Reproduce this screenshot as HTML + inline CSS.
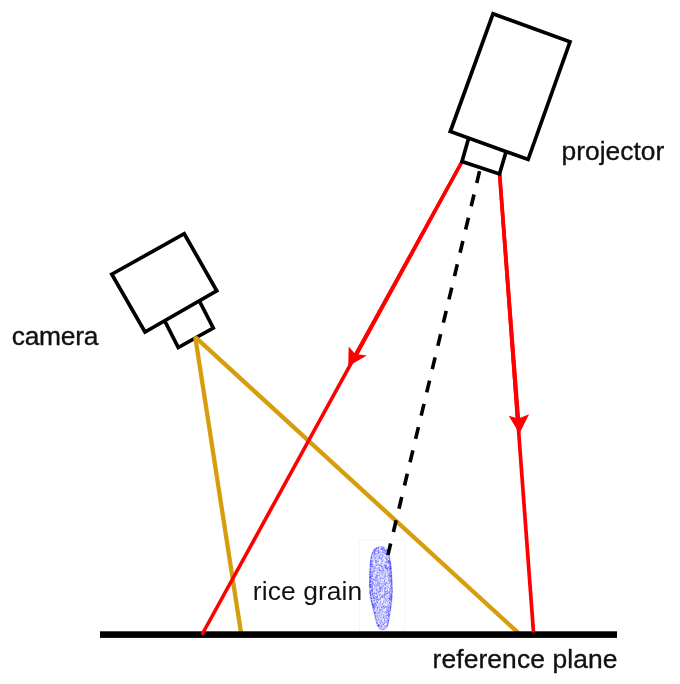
<!DOCTYPE html>
<html>
<head>
<meta charset="utf-8">
<title>Structured light setup</title>
<style>
html,body{margin:0;padding:0;background:#fff;}
body{width:680px;height:684px;overflow:hidden;}
svg{display:block;filter:blur(0.6px);}
text{font-family:"Liberation Sans",Arial,sans-serif;font-size:26.4px;fill:#111;}
.b{stroke:#111;stroke-width:0.35px;}
</style>
</head>
<body>
<svg width="680" height="684" viewBox="0 0 680 684">
  <defs>
    <filter id="blur" x="-20%" y="-20%" width="140%" height="140%"><feGaussianBlur stdDeviation="0.6"/></filter>
  </defs>
  <rect width="680" height="684" fill="#fff"/>

  <!-- rice grain image box -->
  <rect x="359.3" y="539.8" width="45.2" height="92" fill="#fff" stroke="#f5f5f5" stroke-width="1"/>
  <g id="grain">
    <path d="M379.6,546.6 L376.6,547.6 L375.2,548.6 L374.1,549.6 L373.4,550.6 L372.7,551.6 L372.3,552.6 L371.9,553.6 L371.5,554.6 L371.2,555.6 L371.1,556.6 L370.9,557.6 L370.7,558.6 L370.6,559.6 L370.4,560.6 L370.3,561.6 L370.2,562.6 L370.1,563.6 L370.0,564.6 L370.0,565.6 L369.9,566.6 L369.9,567.6 L369.8,568.6 L369.8,569.6 L369.7,570.6 L369.7,571.6 L369.7,572.6 L369.6,573.6 L369.6,574.6 L369.6,575.6 L369.6,576.6 L369.5,577.6 L369.5,578.6 L369.5,579.6 L369.5,580.6 L369.4,581.6 L369.4,582.6 L369.4,583.6 L369.4,584.6 L369.4,585.6 L369.5,586.6 L369.5,587.6 L369.5,588.6 L369.5,589.6 L369.6,590.6 L369.6,591.6 L369.7,592.6 L369.9,593.6 L370.0,594.6 L370.2,595.6 L370.3,596.6 L370.5,597.6 L370.7,598.6 L370.8,599.6 L371.0,600.6 L371.3,601.6 L371.5,602.6 L371.7,603.6 L372.0,604.6 L372.2,605.6 L372.4,606.6 L372.7,607.6 L372.9,608.6 L373.1,609.6 L373.4,610.6 L373.6,611.6 L373.9,612.6 L374.1,613.6 L374.4,614.6 L374.6,615.6 L374.9,616.6 L375.1,617.6 L375.4,618.6 L375.6,619.6 L375.9,620.6 L376.2,621.6 L376.4,622.6 L376.7,623.6 L377.0,624.6 L377.3,625.6 L378.0,626.6 L378.7,627.6 L379.4,628.6 L380.9,629.6 L385.1,629.6 L386.3,628.6 L386.8,627.6 L387.3,626.6 L387.8,625.6 L388.1,624.6 L388.3,623.6 L388.5,622.6 L388.7,621.6 L388.9,620.6 L389.1,619.6 L389.3,618.6 L389.5,617.6 L389.6,616.6 L389.8,615.6 L389.9,614.6 L390.1,613.6 L390.2,612.6 L390.4,611.6 L390.6,610.6 L390.7,609.6 L390.9,608.6 L391.0,607.6 L391.1,606.6 L391.3,605.6 L391.4,604.6 L391.5,603.6 L391.7,602.6 L391.8,601.6 L391.9,600.6 L392.0,599.6 L392.1,598.6 L392.1,597.6 L392.2,596.6 L392.3,595.6 L392.3,594.6 L392.4,593.6 L392.5,592.6 L392.5,591.6 L392.5,590.6 L392.4,589.6 L392.4,588.6 L392.4,587.6 L392.4,586.6 L392.3,585.6 L392.3,584.6 L392.3,583.6 L392.2,582.6 L392.2,581.6 L392.1,580.6 L392.1,579.6 L392.0,578.6 L392.0,577.6 L391.9,576.6 L391.8,575.6 L391.8,574.6 L391.7,573.6 L391.7,572.6 L391.6,571.6 L391.5,570.6 L391.4,569.6 L391.3,568.6 L391.2,567.6 L391.2,566.6 L391.1,565.6 L390.9,564.6 L390.8,563.6 L390.6,562.6 L390.5,561.6 L390.3,560.6 L390.1,559.6 L389.9,558.6 L389.6,557.6 L389.4,556.6 L389.2,555.6 L388.9,554.6 L388.6,553.6 L388.3,552.6 L388.0,551.6 L387.6,550.6 L387.1,549.6 L386.3,548.6 L385.2,547.6 L382.4,546.6Z" fill="#ebebfe" stroke="#bdbdfa" stroke-width="0.8" filter="url(#blur)"/>
    <path d="M370.0 584.3h.01M377.9 585.4h.01M376.5 562.1h.01M386.6 612.6h.01M372.2 604.4h.01M391.8 597.9h.01M390.2 590.7h.01M381.7 566.9h.01M380.2 583.4h.01M376.4 599.9h.01M369.7 584.8h.01M388.7 605.5h.01M372.8 570.8h.01M384.6 580.0h.01M376.7 622.4h.01M376.4 579.8h.01M389.8 611.4h.01M388.0 609.7h.01M373.3 555.2h.01M382.0 561.5h.01M389.5 562.6h.01M384.0 600.2h.01M370.4 564.5h.01M374.9 613.5h.01M371.4 564.3h.01M371.2 600.1h.01M372.8 564.5h.01M391.2 574.1h.01M386.2 554.3h.01M382.8 596.7h.01M390.3 594.5h.01M388.3 614.7h.01M391.8 581.8h.01M380.1 626.7h.01M377.5 568.1h.01M373.9 571.2h.01M378.9 552.5h.01M386.7 617.5h.01M388.1 622.9h.01M390.9 569.1h.01M378.2 561.4h.01M371.7 557.7h.01M390.2 604.2h.01M374.6 549.7h.01M386.9 586.8h.01M382.8 629.7h.01M374.9 608.0h.01M379.3 622.7h.01M370.8 581.4h.01M385.1 594.3h.01M391.7 595.2h.01M378.0 579.0h.01M391.6 583.4h.01M379.2 609.1h.01M374.4 586.7h.01M370.2 588.1h.01M386.7 568.0h.01M389.9 603.1h.01M386.6 583.5h.01M383.7 602.1h.01M380.7 619.9h.01M380.8 573.1h.01M382.2 569.8h.01M383.4 569.6h.01M387.1 598.7h.01M392.0 584.4h.01M378.4 619.2h.01M372.5 594.2h.01M381.5 548.4h.01M390.7 566.5h.01M377.3 599.0h.01M371.6 601.2h.01M382.4 603.6h.01M381.3 561.6h.01M387.7 606.1h.01M380.0 575.5h.01M384.8 597.8h.01M383.1 606.8h.01M385.3 598.7h.01M372.4 594.0h.01M380.2 625.2h.01M372.0 563.8h.01M389.5 600.1h.01M374.5 612.4h.01M388.9 617.8h.01M372.5 583.4h.01M371.7 587.3h.01M372.8 561.2h.01M379.8 558.5h.01M391.7 587.7h.01M386.8 565.2h.01M381.2 607.3h.01M386.2 616.8h.01M370.4 578.4h.01M370.4 564.1h.01M390.0 590.3h.01M377.4 591.3h.01M372.0 589.6h.01M374.9 593.5h.01M382.4 552.3h.01M390.3 569.1h.01M370.3 582.8h.01M390.1 586.4h.01M391.0 598.1h.01M388.7 611.5h.01M385.9 565.7h.01M391.0 576.3h.01M381.5 607.5h.01M379.6 567.6h.01M383.8 583.1h.01M390.0 590.7h.01M380.4 599.2h.01M376.1 617.5h.01M372.0 566.1h.01M385.7 621.7h.01M376.9 623.4h.01M386.9 620.5h.01M390.3 607.1h.01M376.5 615.9h.01M375.3 557.3h.01M378.2 548.3h.01M373.8 556.4h.01M390.2 588.5h.01M388.0 552.7h.01M378.7 592.6h.01M387.8 559.0h.01M387.9 623.7h.01M382.8 610.3h.01M377.5 589.6h.01M383.3 616.9h.01M389.0 608.2h.01M390.0 560.5h.01M378.2 599.0h.01M371.9 588.7h.01M373.3 568.2h.01M370.6 580.5h.01M374.7 604.5h.01M391.6 580.5h.01M391.5 575.2h.01M376.6 576.3h.01M376.8 602.1h.01M384.9 594.1h.01M372.4 605.0h.01M384.5 608.1h.01M383.1 551.0h.01M372.1 555.0h.01M370.0 592.5h.01M391.4 599.8h.01M391.8 596.4h.01M383.0 624.0h.01M377.1 560.8h.01M377.5 581.7h.01M375.6 577.1h.01M374.2 593.3h.01M388.3 571.4h.01M375.7 550.4h.01M373.1 579.2h.01M377.6 625.2h.01M369.8 582.4h.01M370.4 567.0h.01M372.8 606.8h.01M389.1 614.6h.01M389.7 598.6h.01M387.0 551.1h.01M382.4 583.6h.01M383.2 568.6h.01M373.9 611.4h.01M370.8 566.6h.01M385.5 611.9h.01M378.5 569.3h.01M373.6 595.9h.01M370.6 562.6h.01M384.8 550.1h.01M391.3 582.1h.01M391.8 591.8h.01M377.7 602.9h.01M389.4 577.8h.01M371.3 575.3h.01M373.9 553.0h.01M389.5 598.6h.01M371.7 582.0h.01M369.9 577.4h.01M373.2 573.8h.01M384.7 623.2h.01M378.7 553.3h.01M387.5 587.0h.01M388.4 611.2h.01M387.3 601.8h.01M387.5 607.0h.01M374.3 558.7h.01M374.1 577.2h.01M370.4 594.0h.01M377.8 622.6h.01M384.0 572.1h.01M384.8 567.4h.01M384.5 577.0h.01M372.5 563.0h.01M378.9 591.7h.01M371.3 561.5h.01M380.1 570.2h.01M370.0 592.0h.01M391.4 600.8h.01M391.8 592.2h.01M380.0 621.4h.01M376.1 558.7h.01M372.9 567.2h.01M384.6 590.1h.01M380.4 602.6h.01M373.1 606.6h.01M375.3 580.9h.01M371.9 590.3h.01M390.8 581.8h.01M389.5 578.0h.01M369.8 582.1h.01M387.3 551.7h.01M390.1 600.6h.01M378.4 552.0h.01M387.9 622.3h.01M387.7 562.1h.01M388.7 606.3h.01M388.8 562.2h.01M380.7 609.7h.01M387.3 614.6h.01M370.0 575.2h.01M391.9 586.9h.01M380.2 578.8h.01M391.5 601.4h.01M372.0 586.0h.01M389.8 606.0h.01M386.9 559.8h.01M379.6 618.9h.01M372.7 591.2h.01M375.2 553.6h.01M381.1 554.9h.01M376.9 618.0h.01M391.4 581.4h.01M381.2 615.4h.01M371.4 590.4h.01M391.1 572.6h.01M374.0 572.2h.01M391.0 576.7h.01M369.9 579.5h.01M378.2 547.8h.01M381.9 566.5h.01M379.3 613.2h.01M379.3 570.9h.01M384.2 571.6h.01M389.5 602.1h.01M373.1 607.5h.01M386.7 593.5h.01M388.8 615.4h.01M375.1 554.6h.01M371.9 561.7h.01M389.4 596.0h.01M383.1 559.8h.01M375.9 582.2h.01M383.8 578.8h.01M378.1 548.1h.01M391.5 601.6h.01M375.8 574.3h.01M380.0 555.6h.01M373.5 597.5h.01M390.5 576.1h.01M371.3 589.6h.01M391.4 598.9h.01M374.5 567.1h.01M385.2 574.1h.01M369.8 585.2h.01M378.9 591.9h.01M370.1 568.7h.01M389.1 614.7h.01M375.2 615.2h.01M371.6 566.8h.01M390.0 562.2h.01M374.6 549.5h.01M373.4 572.3h.01M371.8 578.5h.01M381.3 548.2h.01M378.3 558.7h.01M387.0 561.2h.01M376.4 593.9h.01M384.2 596.6h.01M373.8 598.6h.01M373.3 609.2h.01M378.5 580.7h.01M382.0 621.9h.01M386.8 582.7h.01M387.4 596.4h.01M391.1 596.1h.01M384.4 583.9h.01M387.4 590.5h.01M391.5 579.6h.01M384.0 602.1h.01M376.7 613.6h.01M391.6 593.8h.01M381.1 612.6h.01M386.1 625.7h.01M391.1 571.6h.01M377.9 579.8h.01M374.0 550.6h.01M370.2 572.4h.01M370.7 563.9h.01M377.1 621.2h.01M390.0 576.2h.01M388.7 563.6h.01M388.4 619.9h.01M373.3 607.0h.01M371.3 558.0h.01M389.4 583.7h.01M389.4 572.3h.01M375.6 561.8h.01M378.2 612.4h.01M370.5 565.8h.01M377.4 602.2h.01M379.8 583.3h.01M384.7 550.6h.01M390.6 567.6h.01M388.2 570.5h.01M389.4 570.0h.01M376.2 549.6h.01M380.8 578.7h.01M376.1 561.7h.01M372.3 576.6h.01M371.1 589.7h.01M372.1 603.6h.01M388.8 561.2h.01M383.3 597.3h.01M382.3 612.5h.01M380.5 565.2h.01M373.3 606.1h.01M390.2 561.7h.01M383.0 588.0h.01M390.8 568.6h.01M389.2 591.9h.01M389.6 558.9h.01M379.8 572.9h.01M390.7 568.8h.01M387.3 614.9h.01M372.1 560.1h.01M384.2 612.1h.01M369.9 577.0h.01M375.7 550.3h.01M383.3 628.7h.01M388.2 608.6h.01M384.4 620.7h.01M391.0 571.5h.01M388.2 610.2h.01M388.1 567.8h.01M385.5 585.1h.01M384.5 597.5h.01M386.3 600.7h.01M382.5 595.8h.01M384.8 579.4h.01M385.7 611.7h.01M389.0 562.0h.01M381.5 563.7h.01M370.0 572.4h.01M390.2 563.8h.01M387.8 604.2h.01M384.2 548.3h.01M373.9 579.4h.01M389.9 569.1h.01M378.6 624.5h.01M382.6 548.5h.01M380.0 573.8h.01M385.7 551.4h.01M378.6 550.2h.01M382.1 549.4h.01M374.3 592.0h.01M375.4 568.4h.01M386.3 559.0h.01M384.9 606.0h.01M386.4 618.7h.01M391.4 575.4h.01M370.2 593.8h.01M370.3 571.5h.01M375.4 564.7h.01M390.4 566.3h.01M391.7 582.3h.01M380.9 578.6h.01M383.8 570.0h.01M375.4 586.2h.01M385.5 566.7h.01M378.0 581.9h.01M376.2 605.0h.01M383.0 548.7h.01M387.7 552.0h.01M382.0 587.9h.01M391.4 573.8h.01M378.5 575.6h.01M389.3 568.5h.01M369.9 585.7h.01M370.0 576.9h.01M378.9 610.8h.01M387.9 580.9h.01M391.6 578.5h.01M385.5 558.1h.01M387.4 559.2h.01M391.3 603.3h.01M389.2 591.9h.01M379.3 587.8h.01M372.4 598.6h.01M384.6 627.2h.01M378.5 620.4h.01M372.3 604.5h.01M379.4 615.2h.01M385.4 587.5h.01M379.5 570.5h.01M385.9 566.5h.01M389.4 561.6h.01M387.5 552.0h.01M383.1 605.3h.01M389.2 610.9h.01M380.2 551.2h.01M377.2 612.9h.01M385.9 567.7h.01M371.2 574.5h.01M384.0 615.6h.01M373.8 605.5h.01M385.0 613.3h.01M389.8 602.4h.01M382.6 557.9h.01M371.3 599.2h.01M381.2 628.9h.01M385.8 556.6h.01M389.1 556.8h.01M385.4 591.8h.01M371.3 572.5h.01M376.8 570.3h.01M379.2 579.1h.01M388.7 613.2h.01M390.2 567.7h.01M378.5 573.7h.01M386.4 558.7h.01M384.7 565.7h.01M390.8 568.3h.01M388.3 620.9h.01M370.6 561.9h.01M381.0 563.6h.01M384.4 581.2h.01M376.9 551.6h.01M371.1 598.5h.01M373.6 583.6h.01M388.8 561.4h.01M384.1 556.7h.01M381.5 609.3h.01M376.8 547.7h.01M374.7 607.8h.01M379.8 628.6h.01M388.6 580.2h.01M381.1 622.3h.01M384.6 565.7h.01M385.6 601.3h.01M388.0 599.8h.01M388.1 621.9h.01M389.2 574.6h.01M377.2 608.5h.01M389.2 561.5h.01M391.6 575.9h.01M386.9 588.5h.01M390.0 591.4h.01M377.8 619.9h.01M389.4 582.5h.01M390.2 580.7h.01M370.2 569.5h.01M385.3 573.5h.01M381.8 628.9h.01M389.4 578.2h.01M371.9 598.0h.01M379.2 599.0h.01M376.9 604.1h.01M389.1 581.6h.01M380.8 596.7h.01M377.6 583.9h.01M383.0 624.1h.01M370.0 572.8h.01M390.9 580.2h.01M375.9 566.2h.01M374.3 613.0h.01M374.2 605.9h.01M370.7 584.5h.01M376.1 563.1h.01M374.2 552.9h.01M371.9 587.5h.01M372.2 592.4h.01M389.3 559.4h.01M374.8 549.9h.01M388.3 616.0h.01M376.8 579.1h.01M376.5 621.6h.01M371.2 564.0h.01M377.3 607.2h.01M386.2 582.6h.01M387.5 573.0h.01M390.2 596.9h.01M381.2 557.4h.01M371.4 557.5h.01M389.9 597.4h.01M386.8 607.9h.01M376.4 580.7h.01M384.0 582.1h.01M369.9 584.7h.01M388.7 575.5h.01M371.2 594.9h.01M375.0 570.6h.01M384.7 584.6h.01M383.3 608.5h.01M385.1 552.1h.01M387.6 583.4h.01M388.5 604.5h.01M370.4 581.0h.01M385.5 567.7h.01M391.4 595.8h.01M384.9 621.2h.01M375.2 577.9h.01M370.0 575.3h.01M382.1 585.7h.01M377.2 573.0h.01M377.9 615.6h.01M383.2 629.6h.01M389.3 580.1h.01M384.0 628.9h.01M373.9 558.7h.01M376.6 553.7h.01M388.7 598.5h.01M382.8 611.2h.01M380.1 548.8h.01M372.2 591.1h.01M390.5 571.8h.01M391.7 593.9h.01M372.5 589.3h.01M390.8 567.3h.01M378.6 564.9h.01M391.4 584.9h.01M375.4 617.4h.01M377.2 590.4h.01M390.6 581.1h.01M380.9 605.9h.01M384.1 549.2h.01M384.1 617.2h.01M387.7 553.3h.01M382.7 623.1h.01M371.6 601.1h.01M370.7 593.9h.01M373.3 579.5h.01M382.9 568.2h.01M383.3 586.4h.01M371.2 584.2h.01M379.3 551.9h.01M391.3 580.0h.01M381.3 577.7h.01M380.9 565.9h.01M381.5 627.0h.01M381.3 626.5h.01M377.1 577.4h.01M381.3 595.7h.01M392.0 589.6h.01M385.8 554.5h.01M375.0 612.8h.01M374.9 580.2h.01M386.1 615.8h.01M373.9 600.1h.01M376.4 592.6h.01M390.5 609.3h.01M377.1 608.0h.01M385.0 583.4h.01M391.3 584.0h.01M391.1 573.4h.01M390.8 602.1h.01M371.5 556.6h.01M389.8 593.3h.01M371.1 581.2h.01M383.3 586.0h.01M370.1 578.1h.01M384.8 587.8h.01M376.4 611.4h.01M388.1 560.6h.01M385.6 575.5h.01M384.9 595.9h.01M385.9 594.5h.01M370.4 595.3h.01M388.7 574.0h.01M378.1 568.5h.01M371.7 568.1h.01M383.1 578.1h.01M370.9 598.1h.01M382.7 622.3h.01M390.3 566.0h.01M391.3 572.2h.01M380.2 604.8h.01M370.1 574.4h.01M379.4 564.9h.01M373.5 597.4h.01M370.7 595.1h.01M372.2 604.0h.01M373.6 606.4h.01M388.1 607.1h.01M387.9 567.8h.01M386.2 557.7h.01M380.3 570.5h.01M376.5 619.3h.01M381.3 617.7h.01M377.6 607.7h.01M370.3 568.4h.01M388.8 576.9h.01M373.5 584.4h.01M389.3 593.8h.01M377.7 625.6h.01M372.0 601.3h.01M388.2 555.3h.01M379.1 619.2h.01M378.7 552.4h.01M380.1 590.1h.01M384.8 562.1h.01M374.3 588.2h.01M391.5 581.4h.01M369.8 587.2h.01M387.6 593.4h.01M370.1 574.7h.01M382.7 624.4h.01M377.5 595.8h.01M372.2 554.0h.01M375.1 549.4h.01M387.2 626.2h.01M372.9 589.9h.01M389.6 613.8h.01M385.8 616.0h.01M372.6 575.6h.01M379.7 568.6h.01M382.2 574.6h.01M389.3 566.3h.01M380.9 559.2h.01M387.9 611.8h.01M380.8 601.1h.01M389.3 568.0h.01M385.8 566.1h.01M374.7 607.1h.01M372.8 591.6h.01M383.3 567.1h.01M369.9 576.4h.01M372.1 578.9h.01M375.7 611.7h.01M377.6 578.3h.01M374.5 608.3h.01M370.2 578.4h.01M371.7 558.7h.01M390.5 575.2h.01M375.2 562.8h.01M384.5 625.6h.01M371.5 556.8h.01M383.9 552.7h.01M386.3 550.9h.01M379.1 557.0h.01M380.2 593.9h.01M386.4 625.4h.01M374.5 553.2h.01M378.3 560.1h.01M370.0 571.2h.01M371.0 585.0h.01M369.9 585.4h.01M380.2 628.0h.01M390.4 580.0h.01M388.0 561.2h.01M376.7 548.4h.01M382.2 588.2h.01M386.1 562.0h.01M378.1 550.2h.01M376.6 577.5h.01M370.7 573.1h.01M379.8 595.0h.01M370.1 585.0h.01M370.8 560.3h.01M373.8 570.8h.01M389.6 566.3h.01M387.4 625.4h.01M379.9 603.8h.01M380.5 588.1h.01M380.9 578.3h.01M376.4 569.1h.01M381.0 585.2h.01M369.8 586.8h.01M390.8 570.1h.01M375.4 613.2h.01M374.6 613.0h.01M379.0 588.6h.01M371.1 586.8h.01M390.1 588.6h.01M372.2 564.7h.01M375.7 603.7h.01M386.0 561.4h.01M377.0 575.3h.01M376.3 600.3h.01M387.8 619.1h.01M372.2 604.4h.01M374.6 598.5h.01M376.0 619.3h.01M385.1 599.8h.01M390.2 576.1h.01M378.4 612.8h.01M381.6 611.1h.01M389.6 573.0h.01M371.5 600.6h.01M370.3 574.2h.01M387.2 611.1h.01M392.1 590.2h.01M382.9 618.4h.01M388.9 608.6h.01M386.8 595.0h.01M383.7 552.6h.01M376.3 590.5h.01M389.0 581.2h.01M391.3 586.1h.01M372.7 582.7h.01M370.2 592.9h.01M381.7 621.7h.01M390.1 562.5h.01M386.5 559.3h.01M386.6 606.5h.01M377.0 610.5h.01M391.4 584.7h.01M370.4 586.2h.01M385.2 551.5h.01M390.4 604.4h.01M373.1 582.1h.01M374.9 580.3h.01M374.9 597.9h.01M381.0 557.5h.01M382.4 548.2h.01M369.9 585.7h.01M380.4 617.5h.01M387.1 556.8h.01M384.2 618.7h.01M388.4 579.9h.01M383.1 584.0h.01M376.6 584.4h.01M372.5 580.9h.01M370.5 584.6h.01M370.3 584.5h.01M373.2 580.1h.01M370.1 571.4h.01M383.5 601.2h.01M373.9 601.0h.01M386.4 591.5h.01M384.1 605.9h.01M379.1 610.4h.01M370.3 565.1h.01M374.1 551.8h.01M380.2 616.3h.01M375.3 605.9h.01M374.7 594.9h.01M370.1 593.4h.01M385.1 558.1h.01M379.7 569.6h.01M376.7 587.9h.01M383.3 570.8h.01M381.5 558.9h.01M386.0 594.1h.01M386.9 609.8h.01M373.5 604.2h.01M385.5 578.4h.01M385.3 591.4h.01M387.1 601.4h.01M390.2 567.5h.01M382.2 608.1h.01M373.7 604.5h.01M378.3 618.1h.01M373.0 604.8h.01M386.1 564.9h.01M378.4 583.5h.01M376.8 565.3h.01M383.0 575.1h.01M385.9 603.0h.01M373.1 605.4h.01M385.0 619.2h.01M390.7 565.8h.01M373.4 604.5h.01M391.7 591.9h.01M373.8 550.5h.01M391.7 596.6h.01M375.2 555.3h.01M375.5 561.4h.01M382.6 604.5h.01M385.3 570.8h.01M387.3 576.7h.01M386.4 568.5h.01M391.3 595.9h.01M382.0 617.0h.01M373.0 572.7h.01M375.5 598.5h.01M384.7 588.3h.01M380.0 588.6h.01M370.5 591.0h.01M386.5 565.4h.01M390.0 598.3h.01M375.0 603.5h.01M379.0 584.5h.01M372.5 553.0h.01M387.3 591.9h.01M375.6 618.3h.01M382.4 547.9h.01M379.4 599.9h.01M378.7 624.8h.01M390.4 595.9h.01M375.1 585.3h.01M379.1 564.8h.01M376.4 574.8h.01M378.5 548.3h.01M373.0 564.6h.01M376.5 593.2h.01M373.8 568.6h.01M390.3 609.7h.01M388.4 613.0h.01M381.2 549.3h.01M385.8 626.3h.01M379.2 615.5h.01M382.9 550.4h.01M377.6 615.2h.01M370.6 562.2h.01M370.6 566.7h.01M389.7 602.8h.01M371.4 566.5h.01M385.1 602.4h.01M390.7 606.3h.01M379.9 587.6h.01M373.5 550.8h.01M390.5 577.6h.01M390.3 596.0h.01M372.7 588.3h.01M390.2 593.7h.01M373.6 606.9h.01M381.2 549.6h.01M377.3 616.9h.01M390.2 610.0h.01M388.6 615.3h.01M374.7 549.9h.01M391.6 578.4h.01M375.5 617.0h.01M384.5 549.9h.01M388.4 562.7h.01M390.3 600.0h.01M391.0 591.2h.01M384.9 594.0h.01M377.0 586.2h.01M390.4 562.9h.01M370.0 579.4h.01M374.7 557.8h.01M370.3 577.7h.01M384.5 550.2h.01M371.6 562.2h.01M373.6 610.3h.01M370.0 576.9h.01M384.0 626.5h.01M372.7 593.6h.01M385.1 552.0h.01M389.5 573.6h.01M369.7 583.9h.01M374.6 568.6h.01M388.4 562.6h.01M392.1 593.0h.01M382.0 546.9h.01M375.0 599.7h.01M373.9 566.1h.01M384.3 581.7h.01M381.9 572.8h.01M374.2 603.7h.01M381.2 627.0h.01M382.9 560.3h.01M378.2 562.0h.01M387.7 551.6h.01M374.8 584.9h.01M385.4 592.3h.01M389.0 556.2h.01M389.5 565.8h.01M387.3 552.1h.01M386.3 596.9h.01M374.4 556.8h.01M380.8 620.2h.01M379.9 627.7h.01M391.7 599.3h.01M377.4 586.3h.01M391.9 589.1h.01M375.4 557.7h.01M380.4 570.9h.01M374.6 613.5h.01M381.6 587.0h.01M387.1 550.6h.01M390.2 603.1h.01M372.7 581.9h.01M385.4 583.7h.01M388.6 620.5h.01M388.1 620.3h.01M377.4 609.0h.01M377.2 564.5h.01M372.4 574.6h.01M376.2 555.9h.01M372.1 585.8h.01M377.3 563.9h.01M370.1 585.8h.01M390.3 564.1h.01M374.6 598.1h.01M386.5 550.2h.01M370.9 592.1h.01M386.2 567.5h.01M373.4 560.8h.01M374.5 574.7h.01M390.1 607.2h.01M373.0 554.7h.01M385.6 588.0h.01M369.9 577.4h.01M375.0 597.1h.01M373.3 596.4h.01M370.8 597.3h.01M385.0 580.6h.01M375.9 580.9h.01M371.1 576.1h.01M375.2 613.2h.01M388.5 578.8h.01M372.0 573.0h.01M384.6 623.3h.01M376.5 556.5h.01M386.7 620.8h.01M374.1 609.8h.01M389.5 576.1h.01M387.5 570.9h.01M378.1 607.3h.01M388.5 613.4h.01M373.2 556.8h.01M382.8 596.9h.01M391.9 596.5h.01M369.8 581.7h.01M370.8 576.7h.01M372.2 594.5h.01M388.1 554.3h.01M387.6 554.5h.01M382.6 609.7h.01M389.2 611.4h.01M380.5 590.8h.01M379.8 606.0h.01M388.5 554.5h.01M381.8 572.5h.01M372.7 593.6h.01M371.9 574.3h.01M374.6 552.6h.01M384.1 595.8h.01M382.3 590.0h.01M390.4 568.2h.01M379.3 558.2h.01M370.4 595.1h.01M388.5 616.1h.01M372.2 561.6h.01M387.4 624.6h.01M371.2 560.5h.01M387.8 622.3h.01M375.9 576.1h.01M383.6 606.6h.01M385.3 584.7h.01M374.0 584.6h.01M390.3 573.9h.01M383.4 550.6h.01M382.0 549.5h.01M383.1 549.3h.01M377.7 572.6h.01M388.3 616.4h.01M373.8 555.5h.01M372.4 566.0h.01M384.7 553.7h.01M386.8 610.6h.01M381.9 584.3h.01M375.6 612.7h.01M389.7 563.4h.01M371.3 571.9h.01M372.5 603.3h.01M388.9 618.6h.01M383.3 570.5h.01M387.5 614.8h.01M388.5 607.5h.01M382.4 552.0h.01M378.8 592.1h.01M375.1 570.9h.01M384.7 574.7h.01M386.9 569.2h.01M391.3 571.5h.01M370.6 586.7h.01M379.9 576.7h.01M376.4 548.8h.01M386.3 593.0h.01M375.1 609.2h.01M382.9 607.0h.01M380.1 591.1h.01M371.3 597.9h.01M383.1 550.9h.01M381.6 625.5h.01M380.6 558.8h.01M373.6 607.8h.01M378.7 547.4h.01M374.2 569.6h.01M373.1 607.5h.01M381.7 590.6h.01M370.6 574.9h.01M383.4 624.4h.01M390.5 569.5h.01M381.6 574.5h.01M369.9 582.9h.01M387.4 615.6h.01M377.2 585.0h.01M390.9 572.7h.01M371.6 564.2h.01M385.3 550.3h.01M370.2 568.7h.01M372.6 586.0h.01M380.1 589.1h.01M377.3 601.8h.01M370.4 564.3h.01M389.4 615.0h.01M389.2 616.3h.01M373.4 607.4h.01M376.0 602.9h.01M391.4 577.3h.01M388.3 613.4h.01M379.2 584.2h.01M383.0 555.8h.01M388.5 567.1h.01M370.2 581.3h.01M372.7 603.0h.01M377.6 597.3h.01M391.3 576.2h.01M376.2 601.9h.01M370.8 597.1h.01M377.0 584.9h.01M377.9 599.8h.01M371.4 577.0h.01M373.2 596.1h.01M388.4 621.3h.01M369.9 573.8h.01M374.6 579.6h.01M383.0 554.9h.01M382.4 557.1h.01M374.4 613.4h.01M388.0 563.0h.01M376.6 548.0h.01M379.8 571.0h.01M390.8 568.9h.01M371.7 575.8h.01M379.6 610.7h.01M375.3 551.4h.01M380.3 611.1h.01M390.9 598.6h.01M375.2 578.7h.01M386.6 568.4h.01M376.1 597.2h.01M390.6 567.8h.01M391.5 595.1h.01M379.4 625.5h.01M372.1 590.6h.01M383.4 614.7h.01M374.3 550.0h.01M375.4 603.1h.01M374.7 605.0h.01M380.3 594.8h.01M370.7 569.7h.01M385.1 575.8h.01M370.6 562.6h.01M390.6 595.7h.01M377.8 550.9h.01M386.1 626.1h.01M390.7 565.2h.01M385.4 587.8h.01M378.4 625.7h.01M392.1 591.0h.01M391.7 597.4h.01M376.5 605.1h.01M370.3 567.1h.01M385.5 591.7h.01M385.9 622.3h.01M385.5 576.2h.01M376.9 563.7h.01M380.4 601.4h.01M374.4 551.5h.01M388.1 568.6h.01M391.8 579.4h.01M374.2 592.8h.01M381.1 565.4h.01M390.8 570.2h.01M391.0 604.4h.01M370.9 560.9h.01M389.8 564.1h.01M391.2 597.1h.01M390.8 600.1h.01M372.6 596.1h.01M386.4 615.4h.01M389.6 558.7h.01M374.8 613.9h.01M385.7 613.7h.01M387.8 586.1h.01M369.8 582.6h.01M380.5 623.5h.01M389.5 558.9h.01M383.7 585.1h.01M383.5 617.6h.01M391.0 594.1h.01M391.2 584.9h.01M387.5 553.4h.01M375.5 615.5h.01M388.2 592.7h.01M379.1 616.5h.01M389.8 599.3h.01M369.9 582.6h.01M391.8 595.9h.01M370.4 593.2h.01M390.5 563.9h.01M388.9 619.1h.01M377.4 594.6h.01M387.1 570.0h.01M374.2 609.8h.01M378.0 575.5h.01M386.4 568.2h.01M377.2 556.2h.01M372.7 566.9h.01M386.4 558.6h.01M371.4 577.0h.01M377.3 596.9h.01M385.2 595.1h.01M376.4 594.1h.01M384.7 565.5h.01M379.2 582.8h.01M379.1 589.8h.01M380.0 603.1h.01M382.5 566.4h.01M380.0 571.1h.01M372.1 584.5h.01M385.5 553.9h.01M390.2 563.7h.01M376.2 590.3h.01M381.9 596.6h.01M382.5 597.6h.01M375.3 604.0h.01M373.5 598.0h.01M382.9 570.7h.01M389.2 607.8h.01M391.4 598.4h.01M374.7 606.4h.01M377.3 583.0h.01M376.3 599.4h.01M375.4 593.3h.01M372.5 605.2h.01M380.5 586.7h.01M370.5 576.5h.01M388.8 561.5h.01M380.0 622.2h.01M385.8 585.0h.01M391.3 583.4h.01M379.2 591.5h.01M386.2 612.6h.01M371.0 569.3h.01M390.7 587.3h.01M383.0 566.0h.01M377.4 596.7h.01M371.8 586.1h.01M388.8 592.2h.01M376.8 606.0h.01M387.6 568.0h.01M384.3 619.0h.01M379.6 594.7h.01M373.5 593.3h.01M376.9 548.1h.01M389.6 569.7h.01M392.1 587.9h.01M389.8 560.5h.01M370.0 573.0h.01M378.6 600.6h.01M381.2 566.7h.01M381.2 586.9h.01M380.0 613.6h.01M387.2 554.4h.01M389.4 588.8h.01M374.9 604.0h.01M391.7 589.1h.01M391.6 600.4h.01M386.9 553.8h.01M382.3 568.7h.01M371.0 559.0h.01M380.1 598.4h.01M375.9 612.0h.01M380.0 555.4h.01M386.6 562.1h.01M378.2 625.1h.01M378.7 625.2h.01M391.3 587.7h.01M380.9 603.9h.01M372.5 576.4h.01M373.6 589.3h.01M388.0 567.8h.01M375.5 596.4h.01M379.1 582.1h.01M386.3 555.5h.01M390.8 586.6h.01M389.3 599.1h.01M371.6 557.4h.01M386.9 626.9h.01M390.6 607.7h.01M388.1 610.4h.01M372.2 566.2h.01M390.2 596.9h.01M379.8 552.4h.01M376.8 596.3h.01M384.2 593.6h.01M375.7 616.7h.01M380.6 610.9h.01M375.5 567.4h.01M379.0 567.4h.01M389.0 597.2h.01M370.7 572.0h.01M382.4 573.3h.01M372.8 582.4h.01M375.8 584.0h.01M383.4 572.9h.01M385.7 593.0h.01M381.2 547.7h.01M377.9 625.8h.01M370.8 570.0h.01M372.8 552.5h.01M373.1 602.7h.01M389.7 561.6h.01M371.6 578.2h.01M390.2 570.8h.01M378.0 568.1h.01M383.9 595.5h.01M390.4 594.0h.01M377.4 571.1h.01M372.7 585.6h.01M379.7 598.9h.01M381.7 568.0h.01M390.4 576.0h.01M390.9 567.8h.01M384.4 590.4h.01M372.0 601.5h.01M388.5 575.7h.01M389.0 561.6h.01M386.2 578.8h.01M384.1 576.8h.01M383.2 576.2h.01M391.6 581.1h.01M376.7 577.0h.01M380.7 553.0h.01M388.6 616.7h.01M378.0 602.1h.01M382.6 581.1h.01M370.2 569.4h.01M379.5 575.7h.01M375.1 553.4h.01M375.1 587.9h.01M387.3 554.5h.01M387.3 572.0h.01M379.6 556.3h.01M390.0 609.7h.01M389.9 607.2h.01M372.2 587.5h.01M385.3 588.8h.01M391.1 579.1h.01M390.7 582.7h.01M377.6 592.0h.01M376.1 586.4h.01M391.9 583.6h.01M372.8 571.2h.01M372.3 586.6h.01M384.7 590.0h.01M383.1 547.0h.01M379.7 592.0h.01M383.5 603.4h.01M376.5 597.5h.01M389.3 575.3h.01M380.0 587.4h.01M375.8 551.4h.01M370.7 560.6h.01M373.4 597.4h.01M391.7 579.6h.01M378.9 585.7h.01M391.8 588.9h.01M381.0 597.9h.01M389.8 581.0h.01M389.9 612.8h.01M376.5 597.8h.01M381.6 561.9h.01M388.4 560.6h.01M376.1 560.7h.01M371.8 602.1h.01M370.0 581.9h.01M374.4 600.7h.01M390.4 608.2h.01M379.1 607.6h.01M387.8 556.5h.01M378.8 613.0h.01M375.1 553.0h.01M382.6 556.0h.01M371.6 565.9h.01M390.5 564.0h.01M370.8 561.1h.01M376.4 549.8h.01M390.1 610.1h.01M374.1 600.7h.01M382.3 588.5h.01M372.1 583.8h.01M388.3 595.6h.01M377.3 575.5h.01M373.1 593.1h.01M382.2 560.8h.01M384.7 564.7h.01M386.6 607.8h.01M387.1 612.1h.01M371.4 585.2h.01M382.0 563.8h.01M378.1 551.0h.01M391.6 597.0h.01M387.5 593.3h.01M381.0 565.3h.01M375.1 577.2h.01M387.9 569.7h.01M379.4 608.7h.01M369.9 590.9h.01M387.3 612.6h.01M390.2 598.8h.01M383.1 554.6h.01M387.0 590.9h.01M373.8 551.1h.01M370.0 571.5h.01M382.4 578.4h.01M383.1 627.2h.01M371.7 600.5h.01M391.2 574.9h.01M374.0 553.3h.01M372.5 590.8h.01M376.4 588.9h.01M391.0 593.8h.01M385.2 553.6h.01M379.1 626.0h.01M371.6 556.7h.01M377.8 565.0h.01M390.7 579.9h.01M378.7 604.5h.01M383.9 614.8h.01M376.7 576.1h.01M390.4 563.2h.01M391.1 589.5h.01M389.7 589.0h.01M374.8 595.2h.01M387.7 584.1h.01M371.4 598.9h.01M390.4 565.2h.01M390.2 584.7h.01M376.2 561.6h.01M377.3 558.7h.01M374.6 566.7h.01M386.1 617.8h.01M377.2 596.6h.01M389.2 592.7h.01M378.2 553.8h.01M378.2 626.4h.01M385.1 598.6h.01M391.4 576.8h.01M382.2 567.0h.01M370.1 586.8h.01M377.3 620.3h.01M372.4 576.1h.01M385.6 576.0h.01M389.5 561.2h.01M381.8 606.4h.01M374.8 613.9h.01M375.7 607.0h.01M379.6 596.1h.01M387.6 591.1h.01M385.9 562.6h.01M390.9 606.1h.01M383.7 564.1h.01M390.7 603.2h.01M377.3 554.4h.01M381.1 597.6h.01M375.3 582.9h.01M386.1 552.7h.01M370.9 565.6h.01M373.3 606.8h.01M377.0 623.5h.01M373.1 571.0h.01M370.5 571.2h.01M374.5 554.6h.01M389.7 570.1h.01M386.1 568.3h.01M375.2 559.1h.01M381.8 614.4h.01M392.1 591.2h.01M382.1 607.9h.01M387.6 624.9h.01M381.5 559.2h.01M378.2 612.3h.01M378.5 551.1h.01M390.4 606.9h.01M386.0 572.9h.01M376.1 560.9h.01M380.5 623.1h.01M377.4 577.1h.01M370.9 597.8h.01M389.2 558.2h.01M374.7 593.3h.01M370.5 576.3h.01M379.7 557.3h.01M378.4 606.3h.01M388.9 557.5h.01M379.2 570.2h.01M389.2 574.6h.01M388.8 608.0h.01M371.8 562.8h.01M381.8 583.2h.01M384.2 595.1h.01M383.1 606.9h.01M385.6 567.8h.01M390.3 563.2h.01M389.2 566.6h.01M387.6 620.5h.01M371.4 572.8h.01M383.2 548.2h.01M385.9 582.4h.01M389.1 564.3h.01M383.6 617.2h.01M370.3 565.1h.01M385.8 606.1h.01M391.6 599.6h.01M370.9 592.0h.01M389.7 597.6h.01M390.6 608.3h.01M378.5 624.6h.01M380.1 591.6h.01M390.1 579.5h.01M391.4 575.8h.01M369.8 580.1h.01M389.5 614.7h.01M386.9 568.6h.01M378.2 554.6h.01M378.7 557.3h.01M373.2 608.6h.01M390.7 568.0h.01M371.3 561.2h.01M379.1 626.4h.01M384.9 606.6h.01M372.4 572.8h.01M381.4 625.3h.01M391.0 605.4h.01M383.5 606.0h.01M377.3 614.2h.01M372.6 605.5h.01M389.9 599.2h.01M380.9 580.7h.01M384.4 608.0h.01M370.3 587.4h.01M391.3 577.7h.01M370.0 591.4h.01M390.5 599.4h.01M381.1 597.6h.01M391.7 580.9h.01M386.2 566.0h.01M387.1 574.3h.01M380.5 609.8h.01M375.7 606.1h.01M391.0 576.3h.01M377.0 573.2h.01M379.5 585.3h.01M387.6 618.6h.01M391.3 598.3h.01M373.0 553.0h.01M374.4 610.8h.01M384.8 617.2h.01M386.3 600.0h.01M386.5 554.3h.01M377.3 599.2h.01M387.1 622.4h.01M372.0 555.1h.01M390.3 585.6h.01M387.3 576.2h.01M377.6 607.4h.01M374.7 549.2h.01M369.8 578.0h.01M381.8 595.8h.01M388.1 598.5h.01M374.6 571.0h.01M380.1 554.1h.01M389.4 602.3h.01M380.3 589.2h.01M386.3 549.5h.01M389.1 575.5h.01M372.5 553.2h.01M371.8 558.1h.01M378.7 548.1h.01M377.5 616.9h.01M384.0 612.1h.01M378.7 594.4h.01M375.5 548.9h.01M372.7 605.6h.01M376.9 609.6h.01M375.9 619.0h.01M391.9 582.6h.01M389.0 573.4h.01M377.0 601.4h.01M386.0 622.3h.01M373.3 580.1h.01M371.6 590.8h.01M371.0 590.0h.01M389.4 615.8h.01M389.4 605.5h.01M375.8 560.4h.01M371.4 598.5h.01M370.5 564.7h.01M378.9 556.8h.01M384.0 622.8h.01M386.0 566.2h.01M377.0 622.4h.01M381.2 625.6h.01M371.1 581.1h.01M392.0 587.8h.01M372.3 560.3h.01M382.8 548.7h.01M370.9 578.9h.01M385.0 566.7h.01M390.1 610.4h.01M382.3 585.8h.01M384.4 592.9h.01M375.0 589.9h.01M387.0 562.8h.01M378.0 625.8h.01M380.7 577.4h.01M377.3 599.6h.01M382.6 561.6h.01M389.3 603.3h.01M369.9 577.5h.01M369.9 587.5h.01M385.3 588.6h.01M381.5 553.8h.01M379.8 586.6h.01M375.2 560.6h.01M381.2 589.6h.01M377.6 580.8h.01M385.4 550.8h.01M373.3 595.2h.01M391.2 598.1h.01M385.1 607.4h.01M371.4 595.3h.01M392.2 592.1h.01M378.3 585.3h.01M371.5 600.6h.01M373.0 583.4h.01M370.4 592.8h.01M379.3 565.5h.01M381.9 614.6h.01M382.5 570.9h.01M375.0 615.9h.01M379.9 613.2h.01M371.2 581.5h.01M374.9 603.0h.01M380.7 581.8h.01M384.5 620.7h.01M390.5 606.1h.01M376.0 589.1h.01M387.1 560.7h.01M371.0 570.1h.01M373.9 600.0h.01M375.8 579.2h.01M370.7 564.0h.01M376.2 619.9h.01M376.8 565.4h.01M377.1 575.6h.01M380.6 591.3h.01M374.7 598.0h.01M391.4 585.8h.01M376.0 553.6h.01M381.7 570.8h.01M385.5 627.4h.01M386.3 599.4h.01M388.9 583.5h.01M379.4 624.5h.01M384.3 552.3h.01M378.3 625.7h.01M374.7 549.2h.01M388.2 577.5h.01M384.7 576.9h.01M381.7 572.1h.01M378.1 562.0h.01M382.8 594.4h.01M382.5 556.6h.01M370.8 581.1h.01M377.1 571.9h.01M388.6 557.6h.01M371.0 591.8h.01M383.2 624.8h.01M371.8 602.1h.01M391.9 587.8h.01M371.2 579.1h.01M372.8 587.9h.01M380.2 581.1h.01M390.7 566.3h.01M380.8 588.3h.01M383.0 578.6h.01M387.4 609.8h.01M385.6 563.3h.01M372.6 582.1h.01M384.8 628.3h.01M376.4 589.8h.01M370.5 595.5h.01M390.8 572.7h.01M373.5 566.8h.01M390.2 576.2h.01M379.5 565.8h.01M374.5 612.4h.01M379.0 599.2h.01M370.5 564.4h.01M383.4 548.0h.01M375.9 568.0h.01M371.8 558.0h.01M378.0 552.2h.01M382.2 619.9h.01M370.2 580.6h.01M382.4 596.4h.01M387.5 589.0h.01M382.1 552.7h.01M371.1 596.5h.01M388.6 586.9h.01M381.5 620.5h.01M378.7 582.9h.01M382.5 591.2h.01M387.7 569.2h.01M388.2 553.2h.01M372.1 601.9h.01M379.0 573.1h.01M386.8 571.0h.01M388.0 623.3h.01M385.0 568.7h.01M379.6 589.0h.01M388.5 600.6h.01M371.1 594.1h.01M370.1 586.6h.01M369.8 580.7h.01M372.9 594.9h.01M376.3 597.0h.01M391.0 568.5h.01M386.4 609.5h.01M377.3 623.3h.01M388.3 612.9h.01M390.7 607.5h.01M371.0 590.8h.01M384.6 591.3h.01M372.9 568.7h.01M389.0 593.2h.01M385.2 607.5h.01M387.3 624.2h.01" fill="none" stroke="#3636ff" stroke-opacity="0.5" stroke-width="0.9" stroke-linecap="round"/>
  </g>

  <!-- camera -->
  <g stroke="#000" stroke-width="3.7" fill="#fff" stroke-linejoin="miter">
    <polygon points="162,315.5 196.8,296 213.25,328 178.25,347.5"/>
    <polygon points="111.75,274.25 184.25,233.75 216.75,290.75 145,332"/>
  </g>

  <!-- gold lines -->
  <g stroke="#D69D0D" stroke-width="4.3" stroke-linecap="round" fill="none">
    <line x1="195.5" y1="338.7" x2="240.9" y2="632"/>
    <line x1="196.7" y1="338.3" x2="517.7" y2="632.4"/>
  </g>

  <!-- reference plane -->
  <rect x="100" y="631.3" width="517" height="6.6" fill="#000"/>

  <!-- dashed -->
  <line x1="479.6" y1="171" x2="387.9" y2="555" stroke="#000" stroke-width="3.6" stroke-dasharray="12.1 11.825" stroke-dashoffset="-0.2" />

  <!-- red lines -->
  <g stroke="#FF0000" fill="none">
    <line x1="462.1" y1="161.5" x2="202.6" y2="633.5" stroke-width="3.6" stroke-linecap="round"/>
    <line x1="499.6" y1="174" x2="533.5" y2="632.3" stroke-width="3.7"/>
  </g>
  <g fill="#FF0000">
    <polygon points="460.65,160.71 350.47,360.14 354.33,362.26 463.55,162.29"/>
    <polygon points="497.95,174.12 516.36,428.17 520.84,427.83 501.25,173.88"/>
    <polygon points="348.2,366.3 348.7,346.4 355.2,354 366.9,355.5"/>
    <polygon points="519.4,433.4 508.7,415.7 518.5,418.6 529.1,414.3"/>
  </g>

  <!-- projector -->
  <g stroke="#000" stroke-width="3.7" fill="#fff" stroke-linejoin="miter">
    <polygon points="469.9,133.7 507.4,147.2 499.5,174 462,161.5"/>
    <polygon points="493,13.75 570,41.75 528.1,159.5 450.3,131.5"/>
  </g>
  <text class="b" x="561.6" y="159.8">projector</text>
  <text class="b" x="11.7" y="345" textLength="86.8" lengthAdjust="spacing">camera</text>
  <text x="252.8" y="599.8" textLength="109.4" lengthAdjust="spacing">rice grain</text>
  <text class="b" x="432.5" y="667.6" textLength="185" lengthAdjust="spacing">reference plane</text>
</svg>
</body>
</html>
